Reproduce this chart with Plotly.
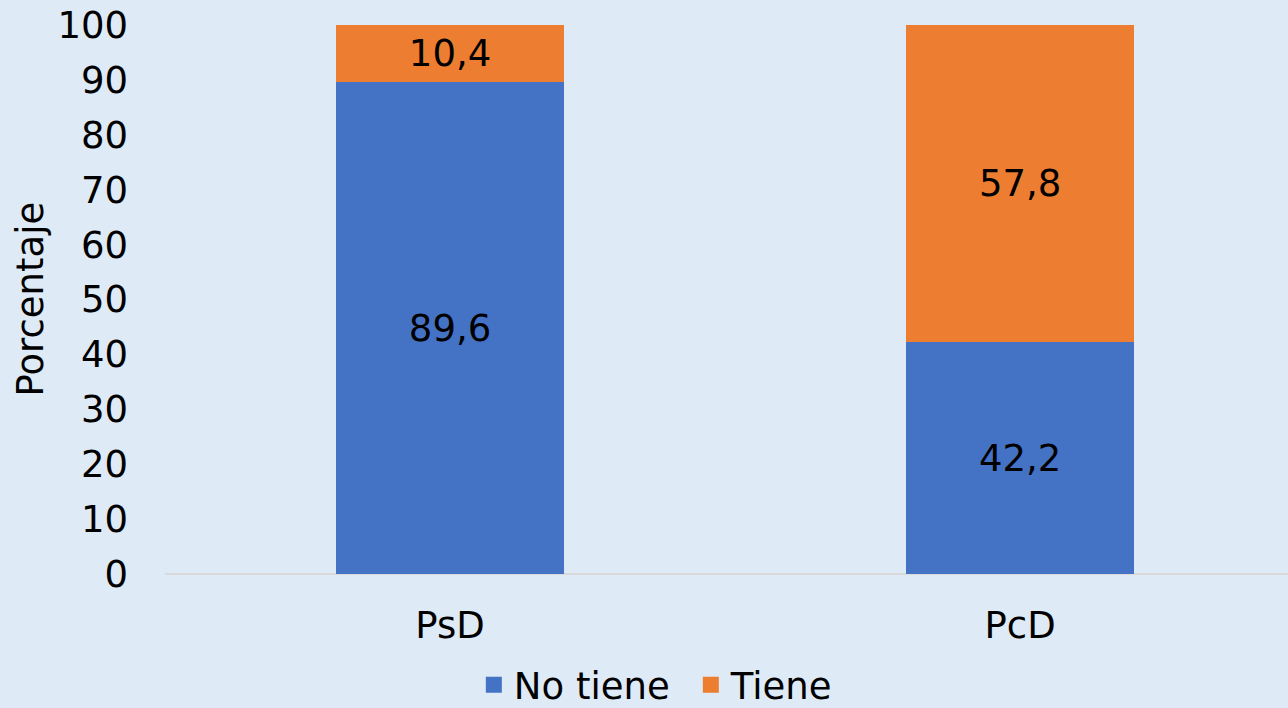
import plotly.graph_objects as go

categories = ["PsD", "PcD"]
no_tiene = [89.6, 42.2]
tiene = [10.4, 57.8]
y_ticks = [0, 10, 20, 30, 40, 50, 60, 70, 80, 90, 100]
series_names = ["No tiene", "Tiene"]
series_colors = ["#4472C4", "#ED7D31"]
y_title = "Porcentaje"

FONT = "DejaVu Sans"
FS = 37
fig = go.Figure()
for vals, name, col in zip([no_tiene, tiene], series_names, series_colors):
    fig.add_trace(go.Bar(x=categories, y=vals, name=name, marker_color=col,
                         marker_line_width=0, width=0.4, showlegend=False,
                         texttemplate="%{y:.1f}", textposition="inside",
                         insidetextanchor="middle", textangle=0,
                         textfont=dict(family=FONT, size=FS, color="black")))
# legend entries with larger square symbols
for name, col in zip(series_names, series_colors):
    fig.add_trace(go.Scatter(x=[None], y=[None], mode="markers", name=name,
                             marker=dict(symbol="square", size=20, color=col),
                             showlegend=True))

fig.add_annotation(text=y_title, textangle=-90, xref="paper", yref="paper",
                   x=-0.1202, y=0.5, xanchor="center", yanchor="middle", showarrow=False,
                   font=dict(family=FONT, size=37, color="black"))

fig.update_layout(
    barmode="stack",
    width=1288, height=708,
    margin=dict(l=165, r=0, t=25, b=134, autoexpand=False),
    paper_bgcolor="#DEEAF6", plot_bgcolor="#DEEAF6",
    separators=",.",
    font=dict(family=FONT, size=FS, color="black"),
    uniformtext=dict(minsize=10, mode="show"),
    showlegend=True,
    legend=dict(orientation="h", x=0.275, xanchor="left", y=-0.146, yanchor="top",
                traceorder="normal", entrywidth=172, entrywidthmode="pixels",
                font=dict(family=FONT, size=FS, color="black"),
                itemwidth=30, tracegroupgap=0, bgcolor="rgba(0,0,0,0)"),
    xaxis=dict(range=[-0.5, 1.47], showgrid=False, zeroline=False, showline=False,
               tickfont=dict(family=FONT, size=FS, color="black"), ticks="", ticklabelstandoff=26,
               automargin=False),
    yaxis=dict(range=[0, 100], tickvals=y_ticks, showgrid=False, zeroline=True,
               zerolinecolor="#D9D9D9", zerolinewidth=2, showline=False, automargin=False,
               tickfont=dict(family=FONT, size=FS, color="black"), ticklabelstandoff=36),
)
fig.write_html("out.html", config={"displayModeBar": False},
               post_script="document.body.style.margin='0';document.body.style.padding='0';")
